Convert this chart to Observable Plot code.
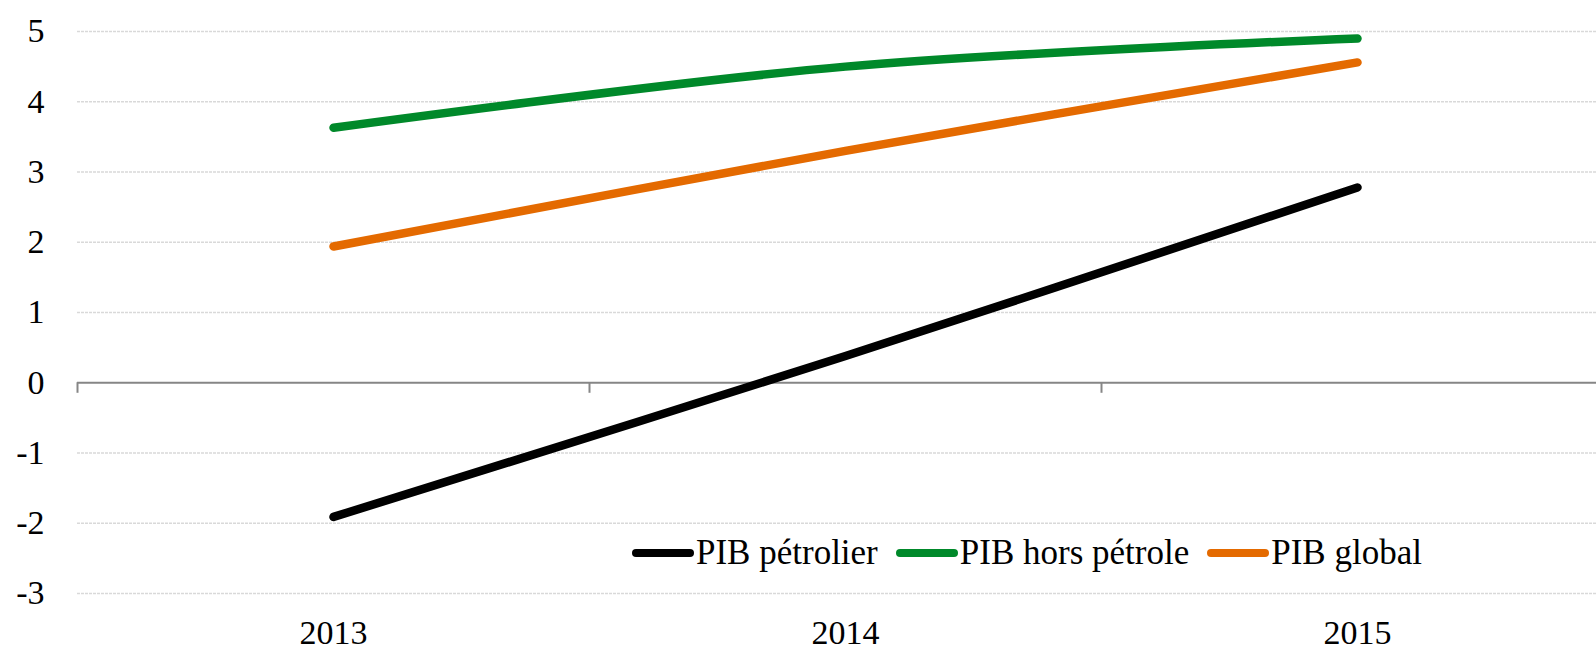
<!DOCTYPE html>
<html>
<head>
<meta charset="utf-8">
<script src="https://cdn.jsdelivr.net/npm/d3@7"></script>
<script src="https://cdn.jsdelivr.net/npm/@observablehq/plot@0.6"></script>
<style>
  html, body { margin: 0; padding: 0; background: #fff; }
  #wrap { position: relative; width: 1596px; height: 650px; overflow: hidden; }
  #legend { position: absolute; left: 632px; top: 533px; display: flex; align-items: center;
    font-family: "Liberation Serif", "DejaVu Serif", serif; font-size: 35px; color: #000; white-space: nowrap; }
  .item { display: flex; align-items: center; margin-right: 18px; }
  .sw { width: 62px; height: 8px; border-radius: 4px; margin-right: 2px; }
</style>
</head>
<body>
<div id="wrap"><div id="legend"></div></div>
<script>
const categories = ["2013", "2014", "2015"];
const seriesNames = ["PIB pétrolier", "PIB hors pétrole", "PIB global"];
const petrolier = [-1.91, 0.38, 2.78];
const horsPetrole = [3.63, 4.50, 4.90];
const global = [1.94, 3.30, 4.56];
const yTicks = [-3, -2, -1, 0, 1, 2, 3, 4, 5];
const colors = ["#000000", "#00892a", "#e46a00"];

const seriesValues = [petrolier, horsPetrole, global];
const rows = [];
seriesNames.forEach((s, k) => categories.forEach((c, i) => rows.push({series: s, i, value: seriesValues[k][i]})));
const boundaries = categories.map((c, i) => i - 0.5);
const font = '"Liberation Serif", "DejaVu Serif", serif';

const chart = Plot.plot({
  width: 1596,
  height: 650,
  marginTop: 31,
  marginBottom: 57,
  marginLeft: 77,
  marginRight: 0,
  style: {fontFamily: font, fontSize: "34px", color: "#000", background: "#fff"},
  x: {domain: [-0.5, categories.length - 0.5], range: [77, 1613]},
  y: {domain: [-3, 5]},
  color: {domain: seriesNames, range: colors},
  marks: [
    Plot.gridY(yTicks.filter(d => d !== 0), {stroke: "#d9d9d9", strokeOpacity: 1, strokeWidth: 1.3, strokeDasharray: "3,1"}),
    Plot.axisY(yTicks, {tickSize: 0, tickPadding: 33, tickFormat: d => String(d), fontSize: 34, label: null}),
    Plot.axisX(categories.map((c, i) => i), {tickSize: 0, tickPadding: 26, tickFormat: i => categories[i], fontSize: 34, label: null}),
    Plot.ruleY([0], {stroke: "#868686", strokeWidth: 2}),
    Plot.ruleX(boundaries, {y1: 0, y2: -0.15, stroke: "#868686", strokeWidth: 2}),
    Plot.line(rows, {x: "i", y: "value", z: "series", stroke: "series", strokeWidth: 8.5, curve: "catmull-rom", strokeLinecap: "round", strokeLinejoin: "round"})
  ]
});
document.getElementById("wrap").prepend(chart);

const legend = document.getElementById("legend");
seriesNames.forEach((s, k) => {
  const it = document.createElement("div");
  it.className = "item";
  const sw = document.createElement("div");
  sw.className = "sw";
  sw.style.background = colors[k];
  const t = document.createElement("span");
  t.textContent = s;
  it.append(sw, t);
  legend.append(it);
});
</script>
</body>
</html>
